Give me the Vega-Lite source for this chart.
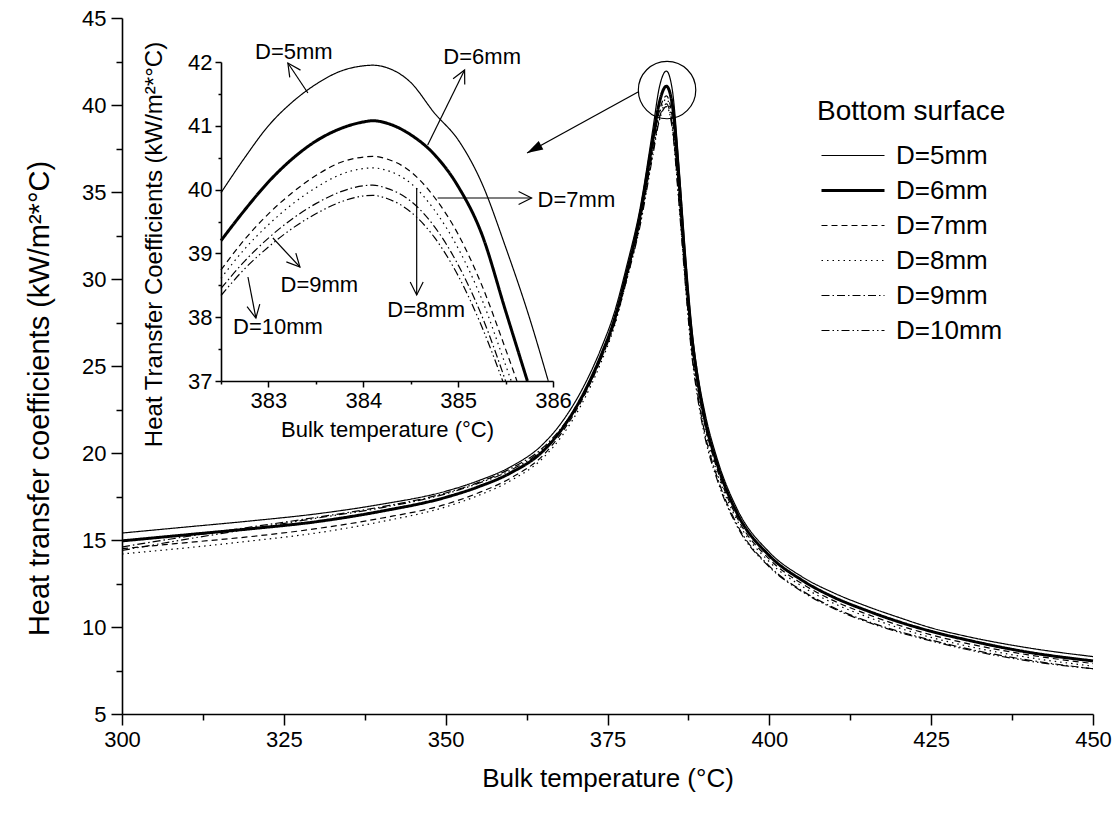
{
  "$schema": "https://vega.github.io/schema/vega-lite/v6.json",
  "width": 971,
  "height": 696,
  "autosize": {"type": "none"},
  "padding": {"left": 122, "top": 18, "right": 26, "bottom": 100},
  "background": "white",
  "config": {
    "view": {"stroke": null},
    "font": "Liberation Sans",
    "axis": {"grid": false, "domainColor": "black", "tickColor": "black", "labelColor": "black", "titleColor": "black", "domainWidth": 1.6, "tickWidth": 1.5, "labelFont": "Liberation Sans", "titleFont": "Liberation Sans", "titleFontWeight": "normal", "labelFontSize": 22, "titleFontSize": 24, "labelFlush": false, "labelOverlap": false},
    "legend": {"orient": "none", "legendX": 695, "legendY": 80, "padding": 0, "titleFont": "Liberation Sans", "titleFontSize": 28, "titleFontWeight": "normal", "titleColor": "black", "titlePadding": 12, "titleLimit": 400, "labelFont": "Liberation Sans", "labelFontSize": 26, "labelColor": "black", "labelOffset": 10, "labelLimit": 300, "symbolType": "stroke", "symbolSize": 3969, "symbolStrokeColor": "black", "rowPadding": 0, "clipHeight": 35, "symbolOffset": 3},
    "text": {"font": "Liberation Sans"}
  },
  "datasets": {
    "main": [
      {"D":"D=5mm","T":300,"h":15.4},{"D":"D=5mm","T":310,"h":15.75},{"D":"D=5mm","T":320,"h":16.1},{"D":"D=5mm","T":330,"h":16.5},{"D":"D=5mm","T":340,"h":17.05},{"D":"D=5mm","T":350,"h":17.8},{"D":"D=5mm","T":355,"h":18.4},{"D":"D=5mm","T":360,"h":19.2},{"D":"D=5mm","T":365,"h":20.5},{"D":"D=5mm","T":368,"h":21.8},{"D":"D=5mm","T":371,"h":23.6},{"D":"D=5mm","T":374,"h":26.0},{"D":"D=5mm","T":376,"h":28.0},{"D":"D=5mm","T":378,"h":30.8},{"D":"D=5mm","T":380,"h":34.0},{"D":"D=5mm","T":382,"h":38.6},{"D":"D=5mm","T":383,"h":41.0},{"D":"D=5mm","T":384.1,"h":41.95},{"D":"D=5mm","T":385,"h":40.9},{"D":"D=5mm","T":386,"h":36.7},{"D":"D=5mm","T":387,"h":31.5},{"D":"D=5mm","T":388,"h":27.2},{"D":"D=5mm","T":389,"h":24.4},{"D":"D=5mm","T":390,"h":22.4},{"D":"D=5mm","T":392,"h":19.6},{"D":"D=5mm","T":395,"h":16.8},{"D":"D=5mm","T":400,"h":14.3},{"D":"D=5mm","T":405,"h":12.9},{"D":"D=5mm","T":410,"h":11.95},{"D":"D=5mm","T":415,"h":11.2},{"D":"D=5mm","T":420,"h":10.55},{"D":"D=5mm","T":425,"h":9.95},{"D":"D=5mm","T":430,"h":9.5},{"D":"D=5mm","T":440,"h":8.8},{"D":"D=5mm","T":450,"h":8.3},
      {"D":"D=6mm","T":300,"h":14.95},{"D":"D=6mm","T":310,"h":15.3},{"D":"D=6mm","T":320,"h":15.65},{"D":"D=6mm","T":330,"h":16.05},{"D":"D=6mm","T":340,"h":16.65},{"D":"D=6mm","T":350,"h":17.45},{"D":"D=6mm","T":355,"h":18.05},{"D":"D=6mm","T":360,"h":18.85},{"D":"D=6mm","T":365,"h":20.1},{"D":"D=6mm","T":368,"h":21.4},{"D":"D=6mm","T":371,"h":23.2},{"D":"D=6mm","T":374,"h":25.6},{"D":"D=6mm","T":376,"h":27.6},{"D":"D=6mm","T":378,"h":30.4},{"D":"D=6mm","T":380,"h":33.6},{"D":"D=6mm","T":382,"h":38.0},{"D":"D=6mm","T":383,"h":40.12},{"D":"D=6mm","T":384.1,"h":41.08},{"D":"D=6mm","T":385,"h":40.05},{"D":"D=6mm","T":386,"h":35.9},{"D":"D=6mm","T":387,"h":31.0},{"D":"D=6mm","T":388,"h":26.8},{"D":"D=6mm","T":389,"h":24.0},{"D":"D=6mm","T":390,"h":22.0},{"D":"D=6mm","T":392,"h":19.3},{"D":"D=6mm","T":395,"h":16.55},{"D":"D=6mm","T":400,"h":14.1},{"D":"D=6mm","T":405,"h":12.7},{"D":"D=6mm","T":410,"h":11.7},{"D":"D=6mm","T":415,"h":10.95},{"D":"D=6mm","T":420,"h":10.3},{"D":"D=6mm","T":425,"h":9.75},{"D":"D=6mm","T":430,"h":9.3},{"D":"D=6mm","T":440,"h":8.55},{"D":"D=6mm","T":450,"h":8.05},
      {"D":"D=7mm","T":300,"h":14.5},{"D":"D=7mm","T":310,"h":14.85},{"D":"D=7mm","T":320,"h":15.2},{"D":"D=7mm","T":330,"h":15.65},{"D":"D=7mm","T":340,"h":16.25},{"D":"D=7mm","T":350,"h":17.05},{"D":"D=7mm","T":355,"h":17.7},{"D":"D=7mm","T":360,"h":18.55},{"D":"D=7mm","T":365,"h":19.85},{"D":"D=7mm","T":368,"h":21.2},{"D":"D=7mm","T":371,"h":23.0},{"D":"D=7mm","T":374,"h":25.4},{"D":"D=7mm","T":376,"h":27.4},{"D":"D=7mm","T":378,"h":30.2},{"D":"D=7mm","T":380,"h":33.3},{"D":"D=7mm","T":382,"h":37.6},{"D":"D=7mm","T":383,"h":39.62},{"D":"D=7mm","T":384.1,"h":40.52},{"D":"D=7mm","T":385,"h":39.3},{"D":"D=7mm","T":386,"h":35.2},{"D":"D=7mm","T":387,"h":30.5},{"D":"D=7mm","T":388,"h":26.4},{"D":"D=7mm","T":389,"h":23.7},{"D":"D=7mm","T":390,"h":21.7},{"D":"D=7mm","T":392,"h":19.0},{"D":"D=7mm","T":395,"h":16.3},{"D":"D=7mm","T":400,"h":13.9},{"D":"D=7mm","T":405,"h":12.5},{"D":"D=7mm","T":410,"h":11.5},{"D":"D=7mm","T":415,"h":10.75},{"D":"D=7mm","T":420,"h":10.1},{"D":"D=7mm","T":425,"h":9.55},{"D":"D=7mm","T":430,"h":9.1},{"D":"D=7mm","T":440,"h":8.4},{"D":"D=7mm","T":450,"h":7.9},
      {"D":"D=8mm","T":300,"h":14.2},{"D":"D=8mm","T":310,"h":14.55},{"D":"D=8mm","T":320,"h":14.95},{"D":"D=8mm","T":330,"h":15.4},{"D":"D=8mm","T":340,"h":16.05},{"D":"D=8mm","T":350,"h":16.9},{"D":"D=8mm","T":355,"h":17.55},{"D":"D=8mm","T":360,"h":18.4},{"D":"D=8mm","T":365,"h":19.7},{"D":"D=8mm","T":368,"h":21.0},{"D":"D=8mm","T":371,"h":22.8},{"D":"D=8mm","T":374,"h":25.2},{"D":"D=8mm","T":376,"h":27.2},{"D":"D=8mm","T":378,"h":30.0},{"D":"D=8mm","T":380,"h":33.1},{"D":"D=8mm","T":382,"h":37.4},{"D":"D=8mm","T":383,"h":39.45},{"D":"D=8mm","T":384.1,"h":40.34},{"D":"D=8mm","T":385,"h":39.08},{"D":"D=8mm","T":386,"h":35.0},{"D":"D=8mm","T":387,"h":30.3},{"D":"D=8mm","T":388,"h":26.2},{"D":"D=8mm","T":389,"h":23.5},{"D":"D=8mm","T":390,"h":21.5},{"D":"D=8mm","T":392,"h":18.8},{"D":"D=8mm","T":395,"h":16.15},{"D":"D=8mm","T":400,"h":13.75},{"D":"D=8mm","T":405,"h":12.35},{"D":"D=8mm","T":410,"h":11.35},{"D":"D=8mm","T":415,"h":10.6},{"D":"D=8mm","T":420,"h":9.95},{"D":"D=8mm","T":425,"h":9.4},{"D":"D=8mm","T":430,"h":8.95},{"D":"D=8mm","T":440,"h":8.25},{"D":"D=8mm","T":450,"h":7.75},
      {"D":"D=9mm","T":300,"h":14.6},{"D":"D=9mm","T":310,"h":15.2},{"D":"D=9mm","T":320,"h":15.75},{"D":"D=9mm","T":330,"h":16.3},{"D":"D=9mm","T":340,"h":16.9},{"D":"D=9mm","T":350,"h":17.7},{"D":"D=9mm","T":355,"h":18.3},{"D":"D=9mm","T":360,"h":19.1},{"D":"D=9mm","T":365,"h":20.3},{"D":"D=9mm","T":368,"h":21.5},{"D":"D=9mm","T":371,"h":23.2},{"D":"D=9mm","T":374,"h":25.5},{"D":"D=9mm","T":376,"h":27.4},{"D":"D=9mm","T":378,"h":30.1},{"D":"D=9mm","T":380,"h":33.2},{"D":"D=9mm","T":382,"h":37.3},{"D":"D=9mm","T":383,"h":39.24},{"D":"D=9mm","T":384.1,"h":40.07},{"D":"D=9mm","T":385,"h":38.82},{"D":"D=9mm","T":386,"h":34.7},{"D":"D=9mm","T":387,"h":30.0},{"D":"D=9mm","T":388,"h":25.9},{"D":"D=9mm","T":389,"h":23.2},{"D":"D=9mm","T":390,"h":21.2},{"D":"D=9mm","T":392,"h":18.55},{"D":"D=9mm","T":395,"h":15.9},{"D":"D=9mm","T":400,"h":13.5},{"D":"D=9mm","T":405,"h":12.1},{"D":"D=9mm","T":410,"h":11.1},{"D":"D=9mm","T":415,"h":10.35},{"D":"D=9mm","T":420,"h":9.75},{"D":"D=9mm","T":425,"h":9.25},{"D":"D=9mm","T":430,"h":8.8},{"D":"D=9mm","T":440,"h":8.1},{"D":"D=9mm","T":450,"h":7.6},
      {"D":"D=10mm","T":300,"h":14.4},{"D":"D=10mm","T":310,"h":15.05},{"D":"D=10mm","T":320,"h":15.65},{"D":"D=10mm","T":330,"h":16.25},{"D":"D=10mm","T":340,"h":16.85},{"D":"D=10mm","T":350,"h":17.65},{"D":"D=10mm","T":355,"h":18.25},{"D":"D=10mm","T":360,"h":19.0},{"D":"D=10mm","T":365,"h":20.2},{"D":"D=10mm","T":368,"h":21.4},{"D":"D=10mm","T":371,"h":23.1},{"D":"D=10mm","T":374,"h":25.4},{"D":"D=10mm","T":376,"h":27.3},{"D":"D=10mm","T":378,"h":30.0},{"D":"D=10mm","T":380,"h":33.0},{"D":"D=10mm","T":382,"h":37.1},{"D":"D=10mm","T":383,"h":39.1},{"D":"D=10mm","T":384.1,"h":39.91},{"D":"D=10mm","T":385,"h":38.65},{"D":"D=10mm","T":386,"h":34.5},{"D":"D=10mm","T":387,"h":29.8},{"D":"D=10mm","T":388,"h":25.7},{"D":"D=10mm","T":389,"h":23.0},{"D":"D=10mm","T":390,"h":21.0},{"D":"D=10mm","T":392,"h":18.4},{"D":"D=10mm","T":395,"h":15.8},{"D":"D=10mm","T":400,"h":13.45},{"D":"D=10mm","T":405,"h":12.05},{"D":"D=10mm","T":410,"h":11.05},{"D":"D=10mm","T":415,"h":10.3},{"D":"D=10mm","T":420,"h":9.7},{"D":"D=10mm","T":425,"h":9.2},{"D":"D=10mm","T":430,"h":8.75},{"D":"D=10mm","T":440,"h":8.05},{"D":"D=10mm","T":450,"h":7.6}
    ],
    "inset": [
      {"D":"D=5mm","T":382.5,"h":39.95},{"D":"D=5mm","T":382.75,"h":40.5},{"D":"D=5mm","T":383,"h":41.0},{"D":"D=5mm","T":383.25,"h":41.37},{"D":"D=5mm","T":383.5,"h":41.65},{"D":"D=5mm","T":383.75,"h":41.85},{"D":"D=5mm","T":384,"h":41.94},{"D":"D=5mm","T":384.1,"h":41.95},{"D":"D=5mm","T":384.25,"h":41.91},{"D":"D=5mm","T":384.5,"h":41.68},{"D":"D=5mm","T":384.75,"h":41.2},{"D":"D=5mm","T":385,"h":40.78},{"D":"D=5mm","T":385.25,"h":40.1},{"D":"D=5mm","T":385.5,"h":39.1},{"D":"D=5mm","T":385.75,"h":38.0},{"D":"D=5mm","T":385.95,"h":37.0},
      {"D":"D=6mm","T":382.5,"h":39.2},{"D":"D=6mm","T":382.75,"h":39.68},{"D":"D=6mm","T":383,"h":40.12},{"D":"D=6mm","T":383.25,"h":40.48},{"D":"D=6mm","T":383.5,"h":40.76},{"D":"D=6mm","T":383.75,"h":40.95},{"D":"D=6mm","T":384,"h":41.06},{"D":"D=6mm","T":384.1,"h":41.08},{"D":"D=6mm","T":384.25,"h":41.04},{"D":"D=6mm","T":384.5,"h":40.86},{"D":"D=6mm","T":384.75,"h":40.55},{"D":"D=6mm","T":385,"h":40.05},{"D":"D=6mm","T":385.25,"h":39.3},{"D":"D=6mm","T":385.5,"h":38.1},{"D":"D=6mm","T":385.73,"h":37.0},
      {"D":"D=7mm","T":382.5,"h":38.74},{"D":"D=7mm","T":382.75,"h":39.22},{"D":"D=7mm","T":383,"h":39.62},{"D":"D=7mm","T":383.25,"h":39.95},{"D":"D=7mm","T":383.5,"h":40.22},{"D":"D=7mm","T":383.75,"h":40.42},{"D":"D=7mm","T":384,"h":40.51},{"D":"D=7mm","T":384.1,"h":40.52},{"D":"D=7mm","T":384.25,"h":40.48},{"D":"D=7mm","T":384.5,"h":40.28},{"D":"D=7mm","T":384.75,"h":39.88},{"D":"D=7mm","T":385,"h":39.3},{"D":"D=7mm","T":385.25,"h":38.5},{"D":"D=7mm","T":385.5,"h":37.5},{"D":"D=7mm","T":385.62,"h":37.0},
      {"D":"D=8mm","T":382.5,"h":38.61},{"D":"D=8mm","T":382.75,"h":39.07},{"D":"D=8mm","T":383,"h":39.45},{"D":"D=8mm","T":383.25,"h":39.77},{"D":"D=8mm","T":383.5,"h":40.03},{"D":"D=8mm","T":383.75,"h":40.23},{"D":"D=8mm","T":384,"h":40.33},{"D":"D=8mm","T":384.1,"h":40.34},{"D":"D=8mm","T":384.25,"h":40.3},{"D":"D=8mm","T":384.5,"h":40.1},{"D":"D=8mm","T":384.75,"h":39.68},{"D":"D=8mm","T":385,"h":39.08},{"D":"D=8mm","T":385.25,"h":38.28},{"D":"D=8mm","T":385.5,"h":37.25},{"D":"D=8mm","T":385.56,"h":37.0},
      {"D":"D=9mm","T":382.5,"h":38.45},{"D":"D=9mm","T":382.75,"h":38.88},{"D":"D=9mm","T":383,"h":39.24},{"D":"D=9mm","T":383.25,"h":39.54},{"D":"D=9mm","T":383.5,"h":39.78},{"D":"D=9mm","T":383.75,"h":39.96},{"D":"D=9mm","T":384,"h":40.06},{"D":"D=9mm","T":384.1,"h":40.07},{"D":"D=9mm","T":384.25,"h":40.02},{"D":"D=9mm","T":384.5,"h":39.82},{"D":"D=9mm","T":384.75,"h":39.42},{"D":"D=9mm","T":385,"h":38.82},{"D":"D=9mm","T":385.25,"h":38.02},{"D":"D=9mm","T":385.5,"h":37.0},
      {"D":"D=10mm","T":382.5,"h":38.34},{"D":"D=10mm","T":382.75,"h":38.76},{"D":"D=10mm","T":383,"h":39.1},{"D":"D=10mm","T":383.25,"h":39.39},{"D":"D=10mm","T":383.5,"h":39.62},{"D":"D=10mm","T":383.75,"h":39.8},{"D":"D=10mm","T":384,"h":39.9},{"D":"D=10mm","T":384.1,"h":39.91},{"D":"D=10mm","T":384.25,"h":39.86},{"D":"D=10mm","T":384.5,"h":39.65},{"D":"D=10mm","T":384.75,"h":39.25},{"D":"D=10mm","T":385,"h":38.65},{"D":"D=10mm","T":385.25,"h":37.85},{"D":"D=10mm","T":385.47,"h":37.0}
    ],
    "insetArrows": [
      {"T1":383.416,"h1":41.514,"T2":383.205,"h2":41.984,"ang":326},
      {"T1":384.679,"h1":40.699,"T2":385.068,"h2":41.875,"ang":26},
      {"T1":384.784,"h1":39.868,"T2":385.774,"h2":39.868,"ang":90},
      {"T1":384.563,"h1":40.025,"T2":384.563,"h2":38.348,"ang":180},
      {"T1":383.047,"h1":39.241,"T2":383.332,"h2":38.787,"ang":137},
      {"T1":382.784,"h1":38.63,"T2":382.868,"h2":37.987,"ang":169}
    ],
    "insetLabels": [
      {"lab":"D=5mm","T":383.268,"h":42.157},
      {"lab":"D=6mm","T":385.253,"h":42.078},
      {"lab":"D=7mm","T":386.247,"h":39.837},
      {"lab":"D=8mm","T":384.663,"h":38.113},
      {"lab":"D=9mm","T":383.537,"h":38.505},
      {"lab":"D=10mm","T":383.1,"h":37.846}
    ],
    "zoomCircle": [{"T":384.2,"h":40.86}],
    "zoomArrow": [{"T1":379.72,"h1":40.75,"T2":362.57,"h2":37.24,"ang":241}]
  },
  "layer": [
    {
      "layer": [
        {
          "data": {"name": "main"},
          "mark": {"type": "line", "color": "black", "interpolate": "monotone"},
          "encoding": {
            "x": {"field": "T", "type": "quantitative", "scale": {"domain": [300, 450], "nice": false, "zero": false},
              "axis": {"orient": "bottom", "values": [300, 325, 350, 375, 400, 425, 450], "tickSize": 11, "labelPadding": 4, "title": "Bulk temperature (°C)", "titleFontSize": 26, "titlePadding": 15}},
            "y": {"field": "h", "type": "quantitative", "scale": {"domain": [5, 45], "nice": false, "zero": false},
              "axis": {"orient": "left", "values": [5, 10, 15, 20, 25, 30, 35, 40, 45], "tickSize": 11, "labelPadding": 5, "title": "Heat transfer coefficients (kW/m²*°C)", "titleFontSize": 29, "titlePadding": 27, "titleY": 380}},
            "detail": {"field": "D"},
            "strokeDash": {"field": "D", "type": "nominal", "title": "Bottom surface",
              "scale": {"domain": ["D=5mm", "D=6mm", "D=7mm", "D=8mm", "D=9mm", "D=10mm"], "range": [[1, 0], [1, 0], [6, 4], [1.5, 4], [8, 3, 1.5, 3], [8, 3, 1.5, 3, 1.5, 3]]}},
            "strokeWidth": {"field": "D", "type": "nominal", "title": "Bottom surface",
              "scale": {"type": "ordinal", "domain": ["D=5mm", "D=6mm", "D=7mm", "D=8mm", "D=9mm", "D=10mm"], "range": [1.2, 3, 1.2, 1.2, 1.2, 1.2]}}
          }
        },
        {
          "data": {"name": "zoomCircle"},
          "mark": {"type": "point", "shape": "circle", "filled": false, "stroke": "black", "strokeWidth": 1.2, "size": 3300, "opacity": 1},
          "encoding": {
            "x": {"field": "T", "type": "quantitative"},
            "y": {"field": "h", "type": "quantitative"}
          }
        },
        {
          "data": {"name": "zoomArrow"},
          "mark": {"type": "rule", "color": "black", "strokeWidth": 1.3},
          "encoding": {
            "x": {"field": "T1", "type": "quantitative"},
            "y": {"field": "h1", "type": "quantitative"},
            "x2": {"field": "T2"},
            "y2": {"field": "h2"}
          }
        },
        {
          "data": {"name": "zoomArrow"},
          "mark": {"type": "point", "shape": "M0,0L-0.3,1L0.3,1Z", "filled": true, "color": "black", "size": 1024, "opacity": 1},
          "encoding": {
            "x": {"field": "T2", "type": "quantitative"},
            "y": {"field": "h2", "type": "quantitative"},
            "angle": {"field": "ang", "type": "quantitative", "scale": null}
          }
        }
      ]
    },
    {
      "data": {"values": [{"T": 300, "h": 5}]},
      "mark": {"type": "point", "opacity": 0},
      "encoding": {
        "x": {"field": "T", "type": "quantitative", "scale": {"domain": [300, 450], "nice": false, "zero": false},
          "axis": {"orient": "bottom", "values": [312.5, 337.5, 362.5, 387.5, 412.5, 437.5], "tickSize": 6, "labels": false, "domain": false, "title": null}},
        "y": {"field": "h", "type": "quantitative", "scale": {"domain": [5, 45], "nice": false, "zero": false},
          "axis": {"orient": "left", "values": [7.5, 12.5, 17.5, 22.5, 27.5, 32.5, 37.5, 42.5], "tickSize": 6, "labels": false, "domain": false, "title": null}}
      }
    },
    {
      "layer": [
        {
          "data": {"name": "inset"},
          "mark": {"type": "line", "color": "black", "interpolate": "monotone"},
          "encoding": {
            "x": {"field": "T", "type": "quantitative", "scale": {"domain": [382.5, 386], "range": [99, 431], "nice": false, "zero": false},
              "axis": {"orient": "bottom", "offset": -333, "values": [383, 384, 385, 386], "format": "d", "tickSize": 6, "labelPadding": 3, "title": "Bulk temperature (°C)", "titleFontSize": 22, "titlePadding": 8}},
            "y": {"field": "h", "type": "quantitative", "scale": {"domain": [37, 42], "range": [363, 44], "nice": false, "zero": false},
              "axis": {"orient": "left", "offset": -99, "values": [37, 38, 39, 40, 41, 42], "format": "d", "tickSize": 6, "labelPadding": 3, "title": "Heat Transfer Coefficients (kW/m²*°C)", "titleFontSize": 24, "titleX": -55, "titleY": 226}},
            "detail": {"field": "D"},
            "strokeDash": {"field": "D", "type": "nominal", "title": "Bottom surface",
              "scale": {"domain": ["D=5mm", "D=6mm", "D=7mm", "D=8mm", "D=9mm", "D=10mm"], "range": [[1, 0], [1, 0], [6, 4], [1.5, 4], [8, 3, 1.5, 3], [8, 3, 1.5, 3, 1.5, 3]]}},
            "strokeWidth": {"field": "D", "type": "nominal", "title": "Bottom surface",
              "scale": {"type": "ordinal", "domain": ["D=5mm", "D=6mm", "D=7mm", "D=8mm", "D=9mm", "D=10mm"], "range": [1.2, 3, 1.2, 1.2, 1.2, 1.2]}}
          }
        },
        {
          "data": {"name": "insetArrows"},
          "mark": {"type": "rule", "color": "black", "strokeWidth": 1.2},
          "encoding": {
            "x": {"field": "T1", "type": "quantitative"},
            "y": {"field": "h1", "type": "quantitative"},
            "x2": {"field": "T2"},
            "y2": {"field": "h2"}
          }
        },
        {
          "data": {"name": "insetArrows"},
          "mark": {"type": "point", "shape": "M-0.45,0.9L0,0L0.45,0.9", "filled": false, "stroke": "black", "strokeWidth": 1.2, "size": 830, "opacity": 1},
          "encoding": {
            "x": {"field": "T2", "type": "quantitative"},
            "y": {"field": "h2", "type": "quantitative"},
            "angle": {"field": "ang", "type": "quantitative", "scale": null}
          }
        },
        {
          "data": {"name": "insetLabels"},
          "mark": {"type": "text", "fontSize": 22, "color": "black", "align": "center", "baseline": "middle", "font": "Liberation Sans"},
          "encoding": {
            "x": {"field": "T", "type": "quantitative"},
            "y": {"field": "h", "type": "quantitative"},
            "text": {"field": "lab"}
          }
        }
      ]
    },
    {
      "data": {"values": [{"T": 382.5, "h": 37}]},
      "mark": {"type": "point", "opacity": 0},
      "encoding": {
        "x": {"field": "T", "type": "quantitative", "scale": {"domain": [382.5, 386], "range": [99, 431], "nice": false, "zero": false},
          "axis": {"orient": "bottom", "offset": -333, "values": [382.5, 383.5, 384.5, 385.5], "tickSize": 3, "labels": false, "domain": false, "title": null}},
        "y": {"field": "h", "type": "quantitative", "scale": {"domain": [37, 42], "range": [363, 44], "nice": false, "zero": false},
          "axis": {"orient": "left", "offset": -99, "values": [37.5, 38.5, 39.5, 40.5, 41.5], "tickSize": 3, "labels": false, "domain": false, "title": null}}
      }
    }
  ],
  "resolve": {"scale": {"x": "independent", "y": "independent"}}
}
